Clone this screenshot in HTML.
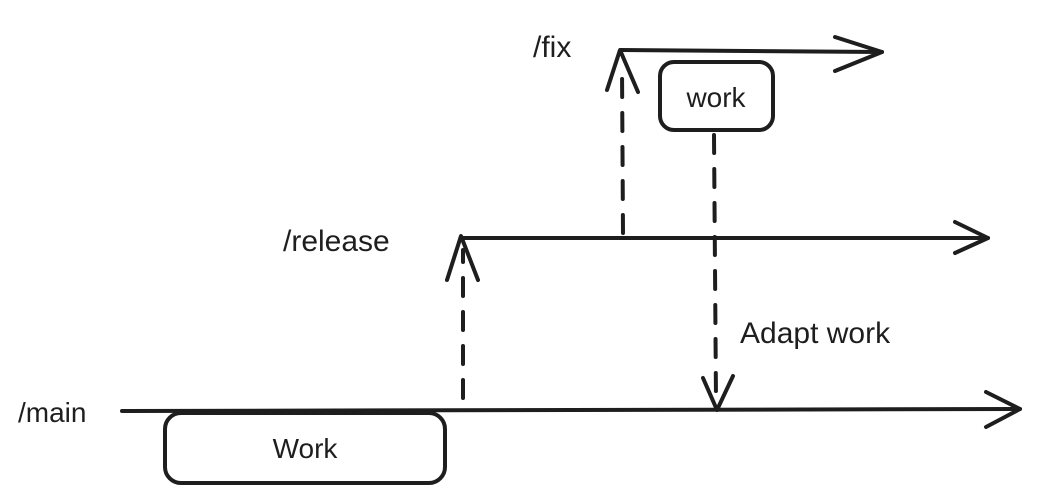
<!DOCTYPE html>
<html><head><meta charset="utf-8"><style>
html,body{margin:0;padding:0;background:#fff;}
svg{display:block;}
text{font-family:"Liberation Sans",sans-serif;fill:#1e1e1e;}
</style></head><body>
<svg width="1040" height="503" viewBox="0 0 1040 503" xmlns="http://www.w3.org/2000/svg">
<g stroke="#1e1e1e" stroke-width="4" fill="none" stroke-linecap="round" stroke-linejoin="round">
  <!-- main -->
  <line x1="122" y1="411" x2="1020" y2="409"/>
  <polyline points="986,392 1020,409 986,427"/>
  <rect x="165" y="413" width="280" height="70" rx="16"/>
  <!-- release -->
  <line x1="462" y1="238" x2="988" y2="238"/>
  <polyline points="955,222 988,238 955,253"/>
  <line x1="463" y1="398" x2="463" y2="250" stroke-dasharray="18,16"/>
  <polyline points="447,280 461,236 478,280"/>
  <!-- fix -->
  <line x1="621" y1="50" x2="882" y2="52"/>
  <polyline points="835,37 882,52 835,71"/>
  <line x1="623" y1="233" x2="622" y2="68" stroke-dasharray="18,16"/>
  <polyline points="607,90 620,50 638,92"/>
  <rect x="660" y="62" width="113" height="68" rx="14"/>
  <!-- adapt -->
  <line x1="714" y1="135" x2="716" y2="400" stroke-dasharray="18,16"/>
  <polyline points="703,378 717,410 733,376"/>
</g>
<text x="18" y="422" font-size="28">/main</text>
<text x="283" y="251" font-size="30">/release</text>
<text x="533" y="57" font-size="30">/fix</text>
<text x="716" y="107" font-size="28" text-anchor="middle">work</text>
<text x="305" y="458" font-size="28" text-anchor="middle">Work</text>
<text x="740" y="343" font-size="30">Adapt work</text>
</svg>
</body></html>
